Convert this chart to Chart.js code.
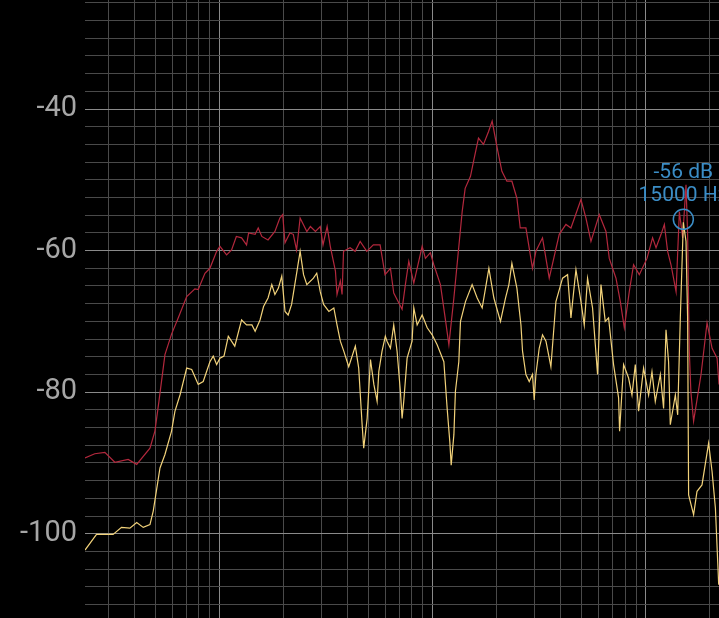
<!DOCTYPE html>
<html>
<head>
<meta charset="utf-8">
<script src="https://cdn.jsdelivr.net/npm/chart.js@4.4.1/dist/chart.umd.min.js"></script>
<style>
  html, body { margin: 0; padding: 0; background: #000; overflow: hidden; }
  #wrap { width: 719px; height: 618px; }
</style>
</head>
<body>
<div id="wrap"><canvas id="spectrum"></canvas></div>
<script>
// Red trace (Hz / dB)
const redFreq = [23.4, 26.0, 29.0, 32.3, 37.3, 40.9, 47.2, 49.8, 52.0, 55.5,
    59.6, 64.1, 70.2, 76.7, 79.5, 85.5, 90.2, 97.0, 100.5, 108,
    114, 120, 127, 134, 137, 147, 152, 158, 169, 182,
    192, 198, 203, 214, 222, 230, 239, 257, 267, 282,
    297, 306, 320, 331, 350, 356, 369, 376, 382, 410,
    433, 457, 491, 527, 567, 598, 634, 657, 719, 745,
    773, 816, 893, 925, 976, 1013, 1088, 1145, 1192, 1258,
    1376, 1421, 1505, 1561, 1641, 1732, 1828, 1902, 2008, 2113,
    2230, 2354, 2485, 2576, 2739, 2941, 3051, 3277, 3524, 3926,
    4221, 4455, 4964, 5239, 5530, 6049, 6504, 6740, 7246, 7594,
    7930, 8366, 8763, 9322, 10130, 10760, 11170, 11790, 12220, 12660,
    13130, 13870, 14370, 14890, 15440, 15710, 16000, 16270, 16760, 18160,
    19380, 20460, 21600, 22050];
const redDb = [-89.3, -88.7, -88.5, -89.9, -89.5, -90.2, -87.9, -85.5, -81.3, -74.7,
    -71.8, -69.5, -66.5, -65.4, -65.5, -63.2, -62.5, -60.1, -59.4, -60.6,
    -59.9, -58.0, -58.2, -59.2, -57.5, -57.7, -56.8, -58.0, -58.5, -57.3,
    -55.4, -54.9, -58.9, -57.5, -57.7, -59.9, -55.4, -57.3, -56.6, -57.3,
    -56.6, -59.2, -56.6, -59.4, -62.9, -66.2, -64.3, -66.2, -60.1, -59.6,
    -60.1, -58.7, -60.1, -59.2, -59.2, -63.4, -62.5, -66.0, -68.3, -64.8,
    -61.5, -64.6, -59.4, -61.1, -60.3, -62.0, -64.8, -69.5, -73.3, -66.7,
    -54.5, -51.2, -49.5, -47.2, -44.1, -45.0, -43.2, -41.7, -45.5, -48.8,
    -50.2, -50.2, -52.6, -56.8, -56.8, -62.5, -60.1, -58.2, -63.9, -57.7,
    -56.3, -56.8, -52.8, -55.4, -58.7, -54.9, -57.3, -61.1, -63.9, -67.2,
    -70.9, -65.8, -62.0, -63.4, -61.1, -58.2, -59.6, -57.7, -56.3, -60.1,
    -62.0, -65.8, -54.5, -58.2, -50.7, -57.7, -74.2, -79.9, -84.1, -77.5,
    -70.2, -73.8, -75.2, -78.9];

// Yellow trace (Hz / dB)
const yellowFreq = [23.4, 26.5, 31.7, 34.7, 38.0, 40.9, 43.9, 47.2, 48.9, 52.6,
    55.5, 59.6, 61.8, 65.3, 70.2, 74.1, 79.5, 83.9, 90.2, 93.5,
    97.0, 100.5, 105, 110, 118, 127, 134, 142, 147, 155,
    161, 169, 176, 182, 189, 196, 203, 210, 218, 231,
    239, 248, 257, 276, 286, 297, 308, 326, 344, 356,
    369, 383, 404, 434, 450, 467, 475, 493, 511, 530,
    549, 559, 579, 600, 611, 634, 657, 681, 706, 719,
    732, 759, 801, 816, 846, 893, 943, 995, 1050, 1129,
    1170, 1204, 1222, 1258, 1279, 1327, 1351, 1426, 1532, 1618,
    1708, 1836, 1938, 2081, 2197, 2279, 2354, 2485, 2596, 2641,
    2739, 2839, 2941, 2996, 3051, 3162, 3277, 3401, 3588, 3788,
    4069, 4296, 4455, 4702, 4964, 5144, 5331, 5626, 5939, 6162,
    6454, 6689, 7060, 7454, 7535, 7868, 8304, 8613, 8928, 9252,
    9765, 10310, 10690, 11080, 11700, 12120, 12440, 12790, 13030, 13760,
    14110, 14520, 15000, 15440, 15710, 15880, 16760, 17390, 18350, 19710,
    20460, 21210, 21980];
const yellowDb = [-102.3, -100.1, -100.1, -99.1, -99.2, -98.4, -99.1, -98.7, -96.8, -90.7,
    -88.8, -85.5, -82.7, -80.4, -76.6, -76.8, -78.9, -78.5, -75.7, -74.9,
    -76.1, -75.2, -74.9, -72.1, -73.5, -69.8, -70.5, -70.5, -71.4, -69.8,
    -67.9, -66.7, -64.8, -66.2, -65.3, -63.6, -68.6, -69.1, -67.6, -62.9,
    -60.1, -63.4, -64.8, -63.9, -63.2, -65.8, -67.6, -68.6, -68.1, -70.5,
    -72.8, -74.2, -76.4, -73.5, -76.6, -84.6, -87.9, -83.7, -75.4, -78.9,
    -81.3, -77.1, -74.2, -72.1, -72.8, -73.8, -70.5, -74.2, -79.9, -83.7,
    -81.3, -75.2, -72.8, -68.1, -70.5, -69.1, -70.9, -71.9, -73.3, -75.7,
    -82.3, -87.0, -90.3, -86.0, -79.9, -75.7, -70.0, -67.2, -64.8, -66.7,
    -68.1, -62.5, -66.7, -70.0, -66.7, -64.8, -61.8, -65.3, -70.5, -74.2,
    -77.5, -78.5, -77.5, -81.1, -77.5, -73.8, -71.9, -72.8, -76.4, -67.2,
    -63.9, -63.4, -69.5, -62.7, -67.2, -70.5, -63.9, -68.1, -77.5, -64.8,
    -70.0, -69.5, -76.1, -80.8, -85.5, -76.1, -78.0, -80.4, -76.1, -82.7,
    -76.6, -80.4, -77.1, -81.3, -77.5, -82.3, -71.2, -75.7, -84.6, -80.4,
    -83.2, -69.5, -56.0, -58.7, -69.5, -94.5, -97.3, -94.0, -93.1, -87.2,
    -91.2, -96.4, -107.2];

// Axis ticks
const dbLabels = [-40, -60, -80, -100];
const gridFreqs = [30, 40, 50, 60, 70, 80, 90,
    100, 200, 300, 400, 500, 600, 700, 800, 900,
    1000, 2000, 3000, 4000, 5000, 6000, 7000, 8000, 9000,
    10000, 20000];

// Peak marker
const markerFreq = 15000;
const markerDb = -56;

const minorGrid = '#4a4a4a';
const majorGrid = '#8a8a8a';
const markerColor = '#3b8dc6';

function toPoints(freqs, dbs) {
    return freqs.map((f, i) => ({ x: f, y: dbs[i] }));
}

const markerPlugin = {
    id: 'peakMarker',
    afterDatasetsDraw(chart) {
        const { ctx, scales } = chart;
        const px = scales.x.getPixelForValue(markerFreq);
        const py = scales.y.getPixelForValue(markerDb);
        ctx.save();
        ctx.strokeStyle = markerColor;
        ctx.lineWidth = 1.5;
        ctx.beginPath();
        ctx.arc(px, py - 3, 10, 0, Math.PI * 2);
        ctx.stroke();
        ctx.fillStyle = markerColor;
        ctx.font = '21px Roboto';
        ctx.textAlign = 'center';
        ctx.textBaseline = 'middle';
        ctx.fillText(markerDb + ' dB', px, py - 50);
        ctx.fillText(markerFreq + ' Hz', px, py - 27);
        ctx.restore();
    }
};

new Chart(document.getElementById('spectrum').getContext('2d'), {
    type: 'line',
    data: {
        datasets: [{
            label: 'Peak',
            data: toPoints(yellowFreq, yellowDb),
            borderColor: '#f2d27a',
            borderWidth: 1.2,
            pointRadius: 0,
            tension: 0
        }, {
            label: 'Average',
            data: toPoints(redFreq, redDb),
            borderColor: '#b3283d',
            borderWidth: 1.2,
            pointRadius: 0,
            tension: 0
        }]
    },
    options: {
        responsive: true,
        maintainAspectRatio: false,
        animation: false,
        layout: { padding: 0 },
        plugins: {
            legend: { display: false },
            tooltip: { enabled: false }
        },
        scales: {
            x: {
                type: 'logarithmic',
                min: 23.4,
                max: 22050,
                border: { display: false },
                ticks: { display: false },
                grid: {
                    drawTicks: false,
                    color: ctx => (ctx.tick && Math.log10(ctx.tick.value) % 1 === 0) ? majorGrid : minorGrid
                },
                afterBuildTicks: scale => {
                    scale.ticks = gridFreqs.map(v => ({ value: v }));
                },
                afterFit: scale => {
                    scale.height = 0;
                    scale.paddingLeft = 0;
                    scale.paddingRight = 0;
                }
            },
            y: {
                type: 'linear',
                min: -111.9,
                max: -24.6,
                border: { display: false },
                grid: {
                    drawTicks: false,
                    color: ctx => (ctx.tick && ctx.tick.value % 20 === 0) ? majorGrid : minorGrid
                },
                ticks: {
                    autoSkip: false,
                    padding: 8,
                    color: '#a6a6a6',
                    font: { family: 'Roboto', size: 29 },
                    callback: value => dbLabels.includes(value) ? String(value) : ''
                },
                afterBuildTicks: scale => {
                    const ticks = [];
                    for (let v = -110; v <= -25; v += 2.5) ticks.push({ value: v });
                    scale.ticks = ticks;
                },
                afterFit: scale => {
                    scale.width = 85;
                    scale.paddingTop = 0;
                    scale.paddingBottom = 0;
                }
            }
        }
    },
    plugins: [markerPlugin]
});
</script>
</body>
</html>
